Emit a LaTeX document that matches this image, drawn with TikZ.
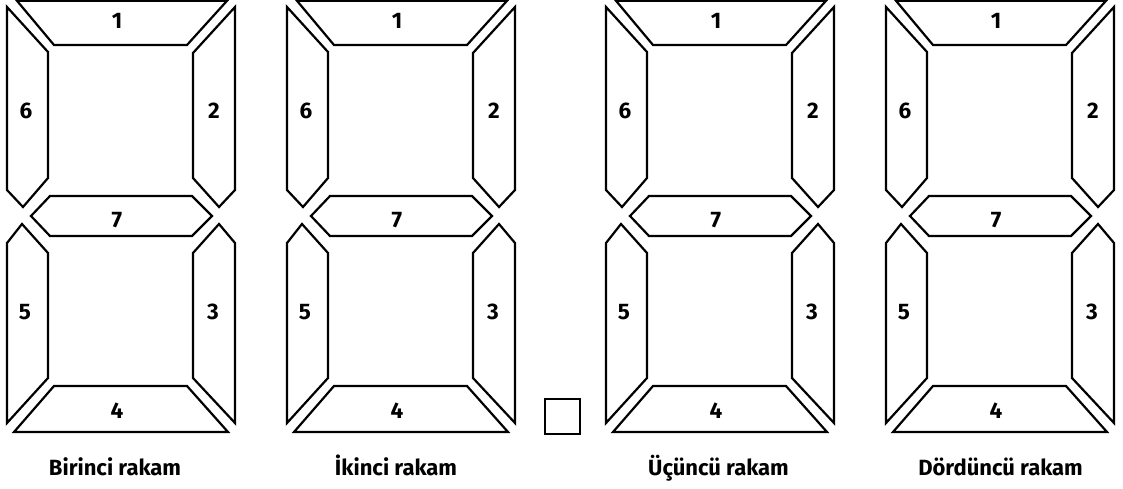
\documentclass[tikz,border=0pt]{standalone}
\usepackage{fontspec}
\setmainfont{Fira Sans}
\tikzset{
  seg/.style={draw=black, line width=2.2pt, line join=miter, fill=white},
  num/.style={font=\bfseries\fontsize{22.5}{22.5}\selectfont, inner sep=0pt, anchor=base},
  capt/.style={font=\bfseries\fontsize{22}{22}\selectfont, inner sep=0pt, anchor=base},
  sqbox/.style={draw=black, line width=2.2pt, minimum size=35pt, inner sep=0pt}
}
\begin{document}
\begin{tikzpicture}[x=1pt,y=-1pt]
\useasboundingbox (0,0) rectangle (1123,489);
\foreach \ox/\nm/\cx/\lab in {0/a/115/Birinci rakam, 280/b/116/İkinci rakam, 599/c/119.5/Üçüncü rakam, 879/d/121.5/Dördüncü rakam} {
  \begin{scope}[xshift=\ox pt]
    % segment 1
    \draw[seg] (17,0.8) -- (227,0.8) -- (187,45) -- (54,45) -- cycle;
    % segment 6
    \draw[seg] (7,7) -- (48,52) -- (48,178) -- (23,207) -- (7,190) -- cycle;
    % segment 2
    \draw[seg] (235,7) -- (193,53) -- (193,178) -- (219,207) -- (235,190) -- cycle;
    % segment 7
    \draw[seg] (31,216) -- (50,196) -- (192,196) -- (212,216) -- (192,236) -- (50,236) -- cycle;
    % segment 5
    \draw[seg] (22,224) -- (48,253) -- (48,378) -- (7,423) -- (7,243) -- cycle;
    % segment 3
    \draw[seg] (219,224) -- (235,243) -- (235,423) -- (193,378) -- (193,253) -- cycle;
    % segment 4
    \draw[seg] (54,386) -- (187,386) -- (228,432) -- (14,432) -- cycle;
    \node[num] (\nm1) at (117,29) {1};
    \node[num] (\nm6) at (26,119) {6};
    \node[num] (\nm2) at (214,119) {2};
    \node[num] (\nm7) at (117,227) {7};
    \node[num] (\nm5) at (25,319) {5};
    \node[num] (\nm3) at (213,319) {3};
    \node[num] (\nm4) at (117,418) {4};
    \node[capt] (\nm cap) at (\cx,475) {\lab};
  \end{scope}
}
\node[sqbox] (box) at (562.5,416.5) {};
\end{tikzpicture}
\end{document}
